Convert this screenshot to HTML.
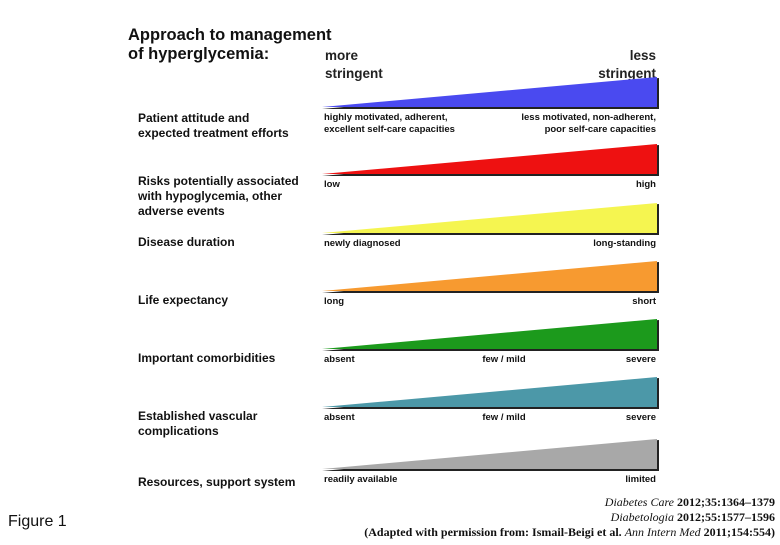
<!DOCTYPE html>
<html><head><meta charset="utf-8"><style>
body{margin:0;background:#fff;width:780px;height:540px;overflow:hidden}
svg{font-family:"Liberation Sans",Arial,sans-serif}
</style></head><body>
<svg id="chart" width="780" height="540">
<text x="128" y="40" font-size="16.5" font-weight="bold" fill="#111">Approach to management</text>
<text x="128" y="59" font-size="16.5" font-weight="bold" fill="#111">of hyperglycemia:</text>
<text x="325" y="60" font-size="13.5" font-weight="bold" fill="#222">more</text>
<text x="325" y="78" font-size="13.5" font-weight="bold" fill="#222">stringent</text>
<text x="656" y="60" font-size="13.5" font-weight="bold" fill="#222" text-anchor="end">less</text>
<text x="656" y="78" font-size="13.5" font-weight="bold" fill="#222" text-anchor="end">stringent</text>
<g id="rows"></g>
<text x="8" y="526" font-size="16" fill="#111">Figure 1</text>
<g font-family="'Liberation Serif',serif" font-size="12" fill="#111" text-anchor="end">
<text x="775" y="506"><tspan font-style="italic">Diabetes Care</tspan> <tspan font-weight="bold">2012;35:1364–1379</tspan></text>
<text x="775" y="521"><tspan font-style="italic">Diabetologia</tspan> <tspan font-weight="bold">2012;55:1577–1596</tspan></text>
<text x="775" y="536" font-weight="bold">(Adapted with permission from: Ismail-Beigi et al. <tspan font-style="italic" font-weight="normal">Ann Intern Med</tspan> 2011;154:554)</text>
</g>
</svg>
<script>
const rowLabels=[["Patient attitude and","expected treatment efforts"],["Risks potentially associated","with hypoglycemia, other","adverse events"],["Disease duration"],["Life expectancy"],["Important comorbidities"],["Established vascular","complications"],["Resources, support system"]];
const leftText=[["highly motivated, adherent,","excellent self-care capacities"],["low"],["newly diagnosed"],["long"],["absent"],["absent"],["readily available"]];
const midText=["","","","","few / mild","few / mild",""];
const rightText=[["less motivated, non-adherent,","poor self-care capacities"],["high"],["long-standing"],["short"],["severe"],["severe"],["limited"]];
const colors=["#4a4af0","#ee1111","#f5f550","#f79a30","#1c9a1c","#4c98a8","#a8a8a8"];
const baseY=[108,175,234,292,350,408,470];
const labelY=[122,185,246,304,362,420,486];
const ns="http://www.w3.org/2000/svg";
const g=document.getElementById('rows');
function mk(tag,attrs){const e=document.createElementNS(ns,tag);for(const k in attrs)e.setAttribute(k,attrs[k]);g.appendChild(e);return e;}
for(let i=0;i<colors.length;i++){
  const b=baseY[i],x0=322,x1=657,h=31;
  const sh=mk('polygon',{points:`${x0},${b+1} ${x1+2},${b-h+1} ${x1+2},${b+1}`,fill:'#222'});
  
  
  const p=mk('polygon',{points:`${x0},${b-1} ${x1},${b-h} ${x1},${b-1}`,fill:colors[i]});
  
  
  rowLabels[i].forEach((t,j)=>{const e=mk('text',{x:138,y:labelY[i]+j*15,'font-size':12,'font-weight':'bold',fill:'#111'});e.textContent=t;
    
    });
  const ty=b+12;
  leftText[i].forEach((t,j)=>{const e=mk('text',{x:324,y:ty+j*12,'font-size':9.5,'font-weight':'bold',fill:'#111'});e.textContent=t;
    
    });
  rightText[i].forEach((t,j)=>{const e=mk('text',{x:656,y:ty+j*12,'font-size':9.5,'font-weight':'bold',fill:'#111','text-anchor':'end'});e.textContent=t;
    
    });
  if(midText[i]){const e=mk('text',{x:504,y:ty,'font-size':9.5,'font-weight':'bold',fill:'#111','text-anchor':'middle'});e.textContent=midText[i];
    
    }
}
</script>
</body></html>
